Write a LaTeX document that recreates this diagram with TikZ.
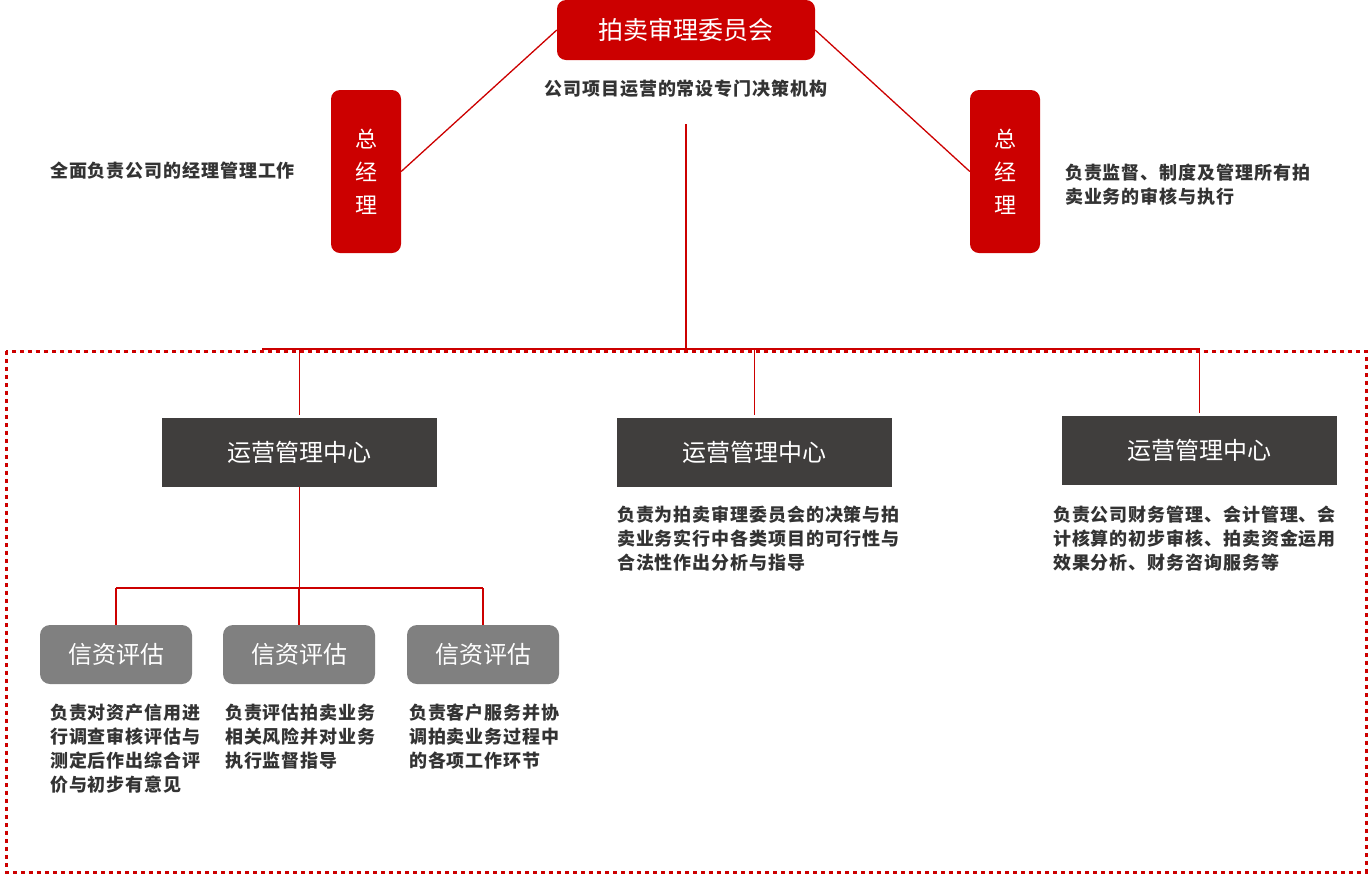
\documentclass[tikz,border=0pt]{standalone}
\usepackage{fontspec}
\newfontfamily\cjk{Noto Sans CJK SC}
\newfontfamily\cjknote{Noto Sans CJK SC}[LetterSpace=5]
\definecolor{aucred}{HTML}{CC0000}
\definecolor{centergray}{HTML}{403E3D}
\definecolor{deptgray}{HTML}{808080}
\definecolor{notetext}{HTML}{333333}
\begin{document}
\begin{tikzpicture}[x=1pt, y=-1pt,
	link/.style={aucred, line width=1.3pt},
	redbox/.style={fill=aucred, rounded corners=9pt, text=white, inner sep=0pt},
	centerbox/.style={fill=centergray, text=white, inner sep=0pt, minimum width=275pt, minimum height=69pt, font=\cjk\fontsize{24}{24}\selectfont},
	deptbox/.style={fill=deptgray, text=white, rounded corners=10pt, inner sep=0pt, minimum width=152pt, minimum height=59pt, font=\cjk\fontsize{24}{24}\selectfont},
	note/.style={text=notetext, inner sep=0pt, align=left, font=\cjknote\bfseries\fontsize{18}{24}\selectfont}]
	\useasboundingbox (0,0) rectangle (1372,879);
	
	%dotted frame
	\draw[aucred, line width=3pt, dash pattern=on 4pt off 4pt] (6,351) rectangle (1366,872);
	
	%top level
	\node[redbox, minimum width=258pt, minimum height=60pt, font=\cjk\fontsize{25}{25}\selectfont] (board) at (686,30){拍卖审理委员会};
	\node[note] (boardnote) at (686,89){公司项目运营的常设专门决策机构};
	\node[redbox, minimum width=70pt, minimum height=163pt, align=center, font=\cjk\fontsize{22}{33}\selectfont] (gmL) at (366,171.5){总\\经\\理};
	\node[redbox, minimum width=70pt, minimum height=163pt, align=center, font=\cjk\fontsize{22}{33}\selectfont] (gmR) at (1005,171.5){总\\经\\理};
	\node[note, anchor=west] (gmLnote) at (50,171){全面负责公司的经理管理工作};
	\node[note, anchor=west] (gmRnote) at (1065,184.5){负责监督、制度及管理所有拍\\卖业务的审核与执行};
	\draw[link] (board.west) -- (gmL.east);
	\draw[link] (board.east) -- (gmR.west);
	
	%centers
	\coordinate (split) at (686,124);
	\coordinate (busL) at (262,349);
	\coordinate (busR) at (1200,349);
	\node[centerbox] (ctrA) at (299.5,452.5){运营管理中心};
	\node[centerbox] (ctrB) at (754.5,452.5){运营管理中心};
	\node[centerbox] (ctrC) at (1199.5,450.5){运营管理中心};
	\draw[link] (split) -- (split |- busL);
	\draw[link] (busL) -- (busR);
	\foreach \n in {ctrA, ctrB, ctrC}{
		\draw[link] (\n.north |- busL) -- ([yshift=3pt]\n.north);
	}
	\node[note, anchor=north west] (ctrBnote) at (617,506){负责为拍卖审理委员会的决策与拍\\卖业务实行中各类项目的可行性与\\合法性作出分析与指导};
	\node[note, anchor=north west] (ctrCnote) at (1053,506){负责公司财务管理、会计管理、会\\计核算的初步审核、拍卖资金运用\\效果分析、财务咨询服务等};
	
	%departments
	\coordinate (subL) at (116,588);
	\coordinate (subR) at (483,588);
	\node[deptbox] (deptA) at (116,654.5){信资评估};
	\node[deptbox] (deptB) at (299,654.5){信资评估};
	\node[deptbox] (deptC) at (483,654.5){信资评估};
	\draw[link] (ctrA.south) -- (ctrA.south |- subL);
	\draw[link] (subL) -- (subR);
	\foreach \n in {deptA, deptB, deptC}{
		\draw[link] (\n.north |- subL) -- (\n.north);
	}
	\node[note, anchor=north west] (deptAnote) at (50,704){负责对资产信用进\\行调查审核评估与\\测定后作出综合评\\价与初步有意见};
	\node[note, anchor=north west] (deptBnote) at (225,704){负责评估拍卖业务\\相关风险并对业务\\执行监督指导};
	\node[note, anchor=north west] (deptCnote) at (409,704){负责客户服务并协\\调拍卖业务过程中\\的各项工作环节};
\end{tikzpicture}
\end{document}
